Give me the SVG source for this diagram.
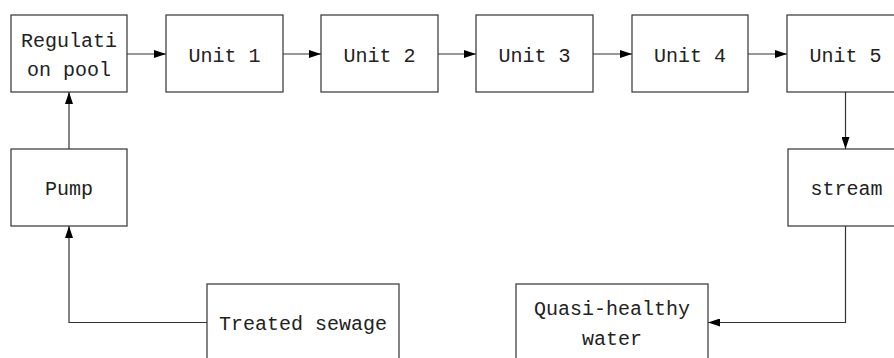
<svg xmlns="http://www.w3.org/2000/svg" width="894" height="358" viewBox="0 0 894 358">
<defs>
<style>
.box{fill:#fff;stroke:#333;stroke-width:1.2}
.t{font-family:"Liberation Mono","DejaVu Sans Mono",monospace;font-size:20px;fill:#222;text-anchor:middle}
.c{fill:none;stroke:#333;stroke-width:1.2}
</style>
<marker id="ah" viewBox="0 0 12 8" refX="12" refY="4" markerWidth="12" markerHeight="8" markerUnits="userSpaceOnUse" orient="auto">
<path d="M0,0 L12,4 L0,8 Z" fill="#000"/>
</marker>
</defs>
<rect width="894" height="358" fill="#fff"/>
<g id="connectors">
<line class="c" x1="127" y1="54" x2="166" y2="54" marker-end="url(#ah)"/>
<line class="c" x1="283" y1="54" x2="321" y2="54" marker-end="url(#ah)"/>
<line class="c" x1="438" y1="54" x2="476" y2="54" marker-end="url(#ah)"/>
<line class="c" x1="593" y1="54" x2="632" y2="54" marker-end="url(#ah)"/>
<line class="c" x1="748" y1="54" x2="787" y2="54" marker-end="url(#ah)"/>
<line class="c" x1="69" y1="149" x2="69" y2="92" marker-end="url(#ah)"/>
<polyline class="c" points="207,322.5 69,322.5 69,226" marker-end="url(#ah)"/>
<line class="c" x1="845.5" y1="92" x2="845.5" y2="149" marker-end="url(#ah)"/>
<polyline class="c" points="845.5,226 845.5,322.5 708,322.5" marker-end="url(#ah)"/>
</g>
<g id="regulation">
<rect class="box" x="11" y="15" width="116" height="77"/>
<text class="t" x="69" y="47">Regulati</text>
<text class="t" x="69" y="76">on pool</text>
</g>
<g id="unit1">
<rect class="box" x="166" y="15" width="117" height="77"/>
<text class="t" x="224.5" y="62">Unit 1</text>
</g>
<g id="unit2">
<rect class="box" x="321" y="15" width="117" height="77"/>
<text class="t" x="379.5" y="62">Unit 2</text>
</g>
<g id="unit3">
<rect class="box" x="476" y="15" width="117" height="77"/>
<text class="t" x="534.5" y="62">Unit 3</text>
</g>
<g id="unit4">
<rect class="box" x="632" y="15" width="116" height="77"/>
<text class="t" x="690" y="62">Unit 4</text>
</g>
<g id="unit5">
<rect class="box" x="787" y="15" width="117" height="77"/>
<text class="t" x="845.5" y="62">Unit 5</text>
</g>
<g id="pump">
<rect class="box" x="11" y="149" width="116" height="77"/>
<text class="t" x="69" y="195">Pump</text>
</g>
<g id="stream">
<rect class="box" x="788" y="149" width="117" height="77"/>
<text class="t" x="846.5" y="195">stream</text>
</g>
<g id="treated">
<rect class="box" x="207" y="284" width="192" height="90"/>
<text class="t" x="303" y="330">Treated sewage</text>
</g>
<g id="quasi">
<rect class="box" x="516" y="284" width="192" height="90"/>
<text class="t" x="612" y="315">Quasi-healthy</text>
<text class="t" x="612" y="345">water</text>
</g>
</svg>
